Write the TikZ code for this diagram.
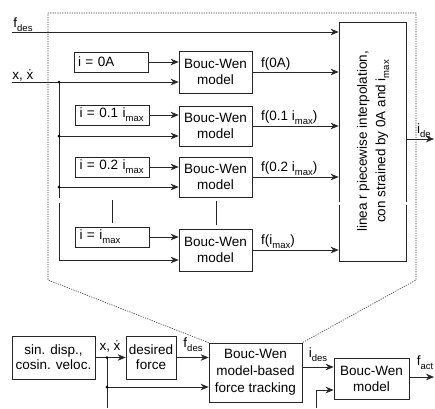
\documentclass[tikz,border=0pt]{standalone}
\usepackage{fontspec}
\setmainfont{Liberation Sans}
\usetikzlibrary{arrows.meta,calc}
\newcommand{\sbs}[1]{\raisebox{-0.28em}{\fontsize{9.5}{10}\selectfont #1}}
\newcommand{\xd}{ẋ}
\newcommand{\fnt}{\fontsize{13.5}{16}\selectfont}
\begin{document}
\begin{tikzpicture}[x=1pt,y=-1pt,
 box/.style={draw=black!85, line width=0.7pt, inner sep=0pt, align=center, font=\fnt},
 ibox/.style={draw=black!85, line width=0.7pt, inner xsep=4pt, inner ysep=0pt, minimum height=20pt, text width=66pt, align=left, font=\fnt},
 lab/.style={inner sep=0pt, font=\fnt},
 arr/.style={draw=black!85, line width=0.7pt, -{Stealth[length=8pt,width=6.5pt,inset=2.5pt]}},
 ln/.style={draw=black!85, line width=0.7pt},
 dt/.style={draw=black!80, line width=0.6pt, dash pattern=on 1.2pt off 1.2pt},
 jdot/.style={fill=black, circle, inner sep=0pt, minimum size=3pt}]
\useasboundingbox (0,0) rectangle (435,408);

% upper part: i boxes
\node[ibox] (i1) at (111,62) {i = 0A};
\node[ibox] (i2) at (112.5,115) {i = 0.1 i\sbs{max}};
\node[ibox] (i3) at (112.5,167) {i = 0.2 i\sbs{max}};
\node[ibox] (i4) at (112.5,237) {i = i\sbs{max}};

% Bouc-Wen models
\node[box, minimum width=73pt, minimum height=42pt] (bw1) at (215.5,72) {Bouc-Wen\\model};
\node[box, minimum width=73pt, minimum height=40pt] (bw2) at (215.5,126) {Bouc-Wen\\model};
\node[box, minimum width=73pt, minimum height=40pt] (bw3) at (215.5,177) {Bouc-Wen\\model};
\node[box, minimum width=73pt, minimum height=42pt] (bw4) at (215.5,250) {Bouc-Wen\\model};

% interpolation box
\node[box, minimum width=67pt, minimum height=239pt] (lin) at (372.5,141.5)
 {\rotatebox{90}{\fontsize{13.5}{18.5}\selectfont\begin{tabular}{@{}c@{}}linea r piecewise interpolation,\\con strained by 0A and i\sbs{max}\end{tabular}}};
\fill[white] (337,201.5) rectangle (341,204.5);
\fill[white] (404,201.5) rectangle (408,204.5);

% inputs
\coordinate (fin) at (12,32);
\coordinate (xin) at (12,82);
\node[lab] (lfd) at (23,25) {f\sbs{des}};
\node[lab] (lx) at (23,75) {x, \xd};
\draw[arr] (fin) -- (fin -| lin.west);
\draw[arr] (xin) -- (xin -| bw1.west);

\coordinate (j1) at (59,82);
\coordinate (j2) at (59,136);
\coordinate (j3) at (59,187);
\coordinate (g1) at (59,198);
\coordinate (g2) at (59,203);
\coordinate (j4) at (59,260);
\draw[ln] (j1) -- (g1);
\draw[arr] (g2) -- (j4) -- (j4 -| bw4.west);
\draw[arr] (j2) -- (j2 -| bw2.west);
\draw[arr] (j3) -- (j3 -| bw3.west);
\node[jdot] (d1) at (j1) {};
\node[jdot] (d2) at (j2) {};
\node[jdot] (d3) at (j3) {};

\draw[arr] (i1.east) -- (i1.east -| bw1.west);
\draw[arr] (i2.east) -- (i2.east -| bw2.west);
\draw[arr] (i3.east) -- (i3.east -| bw3.west);
\draw[arr] (i4.east) -- (i4.east -| bw4.west);

% ellipsis marks
\coordinate (e1a) at (112,200);
\coordinate (e1b) at (112,223);
\coordinate (e2a) at (216,201);
\coordinate (e2b) at (216,225);
\draw[ln, line width=0.6pt] (e1a) -- (e1b);
\draw[ln, line width=0.6pt] (e2a) -- (e2b);

% outputs of models
\draw[arr] (bw1.east) -- (bw1.east -| lin.west);
\draw[arr] (bw2.east) -- (bw2.east -| lin.west);
\draw[arr] (bw3.east) -- (bw3.east -| lin.west);
\draw[arr] (bw4.east) -- (bw4.east -| lin.west);
\node[lab, anchor=west] (lf1) at (261,64) {f(0A)};
\node[lab, anchor=west] (lf2) at (261,118) {f(0.1 i\sbs{max})};
\node[lab, anchor=west] (lf3) at (261,169) {f(0.2 i\sbs{max})};
\node[lab, anchor=west] (lf4) at (261,242) {f(i\sbs{max})};

\coordinate (lo) at (406,139);
\coordinate (loe) at (434,139);
\draw[arr] (lo) -- (loe);
\node[lab, anchor=west] (lide) at (417,131) {i\sbs{de}};

% lower part
\node[box, minimum width=83pt, minimum height=43pt, font=\fontsize{13.5}{15}\selectfont] (sin) at (53.5,357.5) {sin. disp.,\\cosin. veloc.};
\node[box, minimum width=50pt, minimum height=43pt, font=\fontsize{13.5}{15}\selectfont] (des) at (151,357.5) {desired\\force};
\node[box, minimum width=93pt, minimum height=59pt, font=\fontsize{13.5}{17}\selectfont] (trk) at (255.5,372.5) {Bouc-Wen\\model-based\\force tracking};
\node[box, minimum width=75pt, minimum height=41pt] (bw5) at (371.5,378.5) {Bouc-Wen\\model};

\draw[dt] (trk.north west) -- (48,280) -- (48,13) -- (416,13) -- (416,280) -- (trk.north east);

\coordinate (k1) at (107,357.5);
\coordinate (k2) at (107,387);
\coordinate (kb) at (107,408);
\draw[arr] (sin.east) -- (des.west);
\draw[ln] (k1) -- (kb);
\draw[arr] (k2) -- (k2 -| trk.west);
\node[jdot] (d4) at (k1) {};
\node[jdot] (d5) at (k2) {};
\draw[arr] (des.east) -- (des.east -| trk.west);

\coordinate (o1) at (302,367);
\draw[arr] (o1) -- (o1 -| bw5.west);
\coordinate (b2) at (316,408);
\coordinate (b2t) at (316,390);
\draw[arr] (b2) -- (b2t) -- (b2t -| bw5.west);
\coordinate (fo) at (409,377);
\coordinate (foe) at (434,377);
\draw[arr] (fo) -- (foe);

\node[lab] (lx2) at (110,346) {x, \xd};
\node[lab] (lfd2) at (193,345) {f\sbs{des}};
\node[lab] (lid) at (318,355) {i\sbs{des}};
\node[lab] (lfa) at (425,363) {f\sbs{act}};
\end{tikzpicture}
\end{document}
